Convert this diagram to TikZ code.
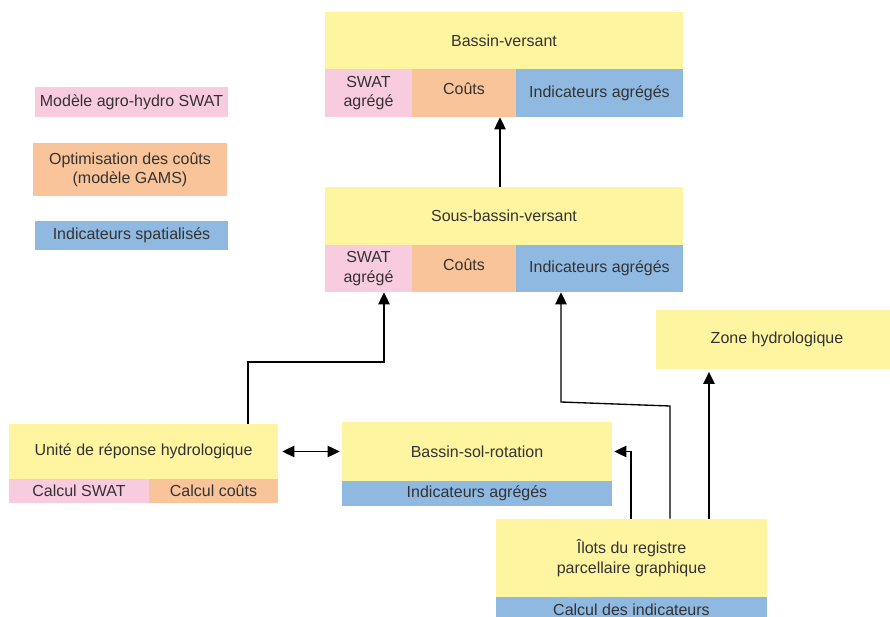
\documentclass[tikz,border=0pt]{standalone}
\usepackage{fontspec}
\setmainfont{Liberation Sans}
\usetikzlibrary{arrows.meta}
\definecolor{yellowbox}{RGB}{255,245,161}
\definecolor{pinkbox}{RGB}{248,203,223}
\definecolor{orangebox}{RGB}{249,196,153}
\definecolor{bluebox}{RGB}{143,185,225}
\definecolor{textgrey}{RGB}{51,51,51}
% \cbox{style}{name}{x1}{y1}{x2}{y2}{text}: filled cell spanning two corners
\newcommand\cbox[7]{%
  \node[#1, minimum width={(#5-#3)*0.75pt}, minimum height={(#6-#4)*0.75pt}]
    (#2) at ({(#3+#5)/2},{(#4+#6)/2}) {#7};}
% text drawn a little higher than the cell centre
\newcommand\up[1]{\raisebox{3pt}[\height][\depth]{#1}}
\begin{document}
\begin{tikzpicture}[x=0.75pt,y=-0.75pt,
  cell/.style={inner sep=0pt, draw=none, text=textgrey, align=center,
    font=\fontsize{12}{14.5}\selectfont},
  ybox/.style={cell, fill=yellowbox},
  pbox/.style={cell, fill=pinkbox},
  obox/.style={cell, fill=orangebox},
  bbox/.style={cell, fill=bluebox},
  arr/.style={-{Triangle[length=9pt,width=8.5pt]}, line width=1pt, black},
  darr/.style={{Triangle[length=9pt,width=8.5pt]}-{Triangle[length=9pt,width=8.5pt]}, line width=1pt, black}]
\clip (0,0) rectangle (890,617);
\fill[white] (0,0) rectangle (890,617);

% legend
\cbox{pbox}{legA}{35}{87}{228}{117}{Modèle agro-hydro SWAT}
\cbox{obox}{legB}{33}{143}{227}{196}{Optimisation des coûts\\(modèle GAMS)}
\cbox{bbox}{legC}{35}{221}{228}{250}{Indicateurs spatialisés}

% Bassin-versant
\cbox{ybox}{bv}{325}{12}{683}{69}{Bassin-versant}
\cbox{pbox}{bvA}{325}{69}{412}{117}{SWAT\\agrégé}
\cbox{obox}{bvB}{412}{69}{516}{117}{\up{Coûts}}
\cbox{bbox}{bvC}{516}{69}{683}{117}{Indicateurs agrégés}

% Sous-bassin-versant
\cbox{ybox}{svb}{325}{187}{683}{245}{Sous-bassin-versant}
\cbox{pbox}{svbA}{325}{245}{412}{292}{SWAT\\agrégé}
\cbox{obox}{svbB}{412}{245}{516}{292}{\up{Coûts}}
\cbox{bbox}{svbC}{516}{245}{683}{292}{Indicateurs agrégés}

% Zone hydrologique
\cbox{ybox}{zone}{656}{310}{898}{369}{Zone hydrologique}

% Unité de réponse hydrologique
\cbox{ybox}{urh}{9}{424}{278}{479}{Unité de réponse hydrologique}
\cbox{pbox}{urhA}{9}{479}{149}{503}{Calcul SWAT}
\cbox{obox}{urhB}{149}{479}{278}{503}{Calcul coûts}

% Bassin-sol-rotation
\cbox{ybox}{bsr}{342}{422}{612}{481}{Bassin-sol-rotation}
\cbox{bbox}{bsrI}{342}{481}{612}{506}{Indicateurs agrégés}

% Îlots du registre parcellaire graphique
\cbox{ybox}{ilot}{496}{519}{767}{597}{Îlots du registre\\parcellaire graphique}
\cbox{bbox}{ilotI}{496}{597}{767}{623}{Calcul des indicateurs}

% bend points
\coordinate (c1) at (500,0);
\coordinate (p1) at (248,362);
\coordinate (p2) at (384,362);
\coordinate (q1) at (631,0);
\coordinate (r1) at (670,406);
\coordinate (r2) at (561,402);
\coordinate (s1) at (709,0);

% connectors
\draw[arr] (svb.north -| c1) -- (bvB.south -| c1);
\draw[arr] (urh.north -| p1) -- (p1) -- (p2) -- (svbA.south -| p2);
\draw[darr, shorten <=3pt, shorten >=1.5pt] (urh.east) -- (bsr.west);
\draw[arr, shorten >=1.5pt] (ilot.north -| q1) |- (bsr.east);
\draw[arr] (ilot.north -| r1) -- (r1) -- (r2) -- (svbC.south -| r2);
\draw[arr, shorten >=2pt] (ilot.north -| s1) -- (zone.south -| s1);
\end{tikzpicture}
\end{document}
